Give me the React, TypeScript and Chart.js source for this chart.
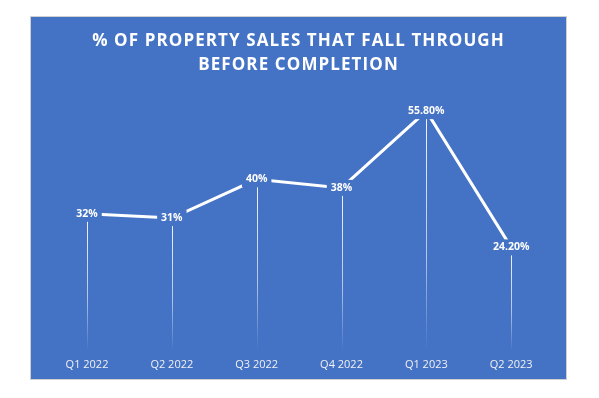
import { useEffect, useRef } from "react";
import { Chart, registerables } from "chart.js";

Chart.register(...registerables);

const categories = ["Q1 2022", "Q2 2022", "Q3 2022", "Q4 2022", "Q1 2023", "Q2 2023"];
const salesFallThrough = [32, 31, 40, 38, 55.8, 24.2];
const valueLabels = ["32%", "31%", "40%", "38%", "55.80%", "24.20%"];
const titleLines = ["% OF PROPERTY SALES THAT FALL THROUGH", "BEFORE COMPLETION"];

const BG = "#4472C4";

const titlePlugin = {
  id: "customTitle",
  afterDraw(chart: any) {
    const ctx = chart.ctx;
    ctx.save();
    ctx.fillStyle = "#FFFFFF";
    ctx.font = "bold 17px 'Open Sans'";
    (ctx as any).letterSpacing = "1.1px";
    ctx.textAlign = "center";
    ctx.textBaseline = "middle";
    const cx = chart.width / 2;
    ctx.fillText(titleLines[0], cx, 24.5);
    ctx.fillText(titleLines[1], cx, 48);
    ctx.restore();
  },
};

const dropLinePlugin = {
  id: "dropLines",
  beforeDatasetsDraw(chart: any) {
    const ctx = chart.ctx;
    const meta = chart.getDatasetMeta(0);
    const bottom = chart.scales.y.getPixelForValue(0);
    ctx.save();
    meta.data.forEach((pt: any) => {
      const x = Math.round(pt.x) + 0.5;
      const g = ctx.createLinearGradient(0, pt.y, 0, bottom);
      g.addColorStop(0, "rgba(255,255,255,0.95)");
      g.addColorStop(0.6, "rgba(255,255,255,0.6)");
      g.addColorStop(1, "rgba(255,255,255,0)");
      ctx.strokeStyle = g;
      ctx.lineWidth = 1;
      ctx.beginPath();
      ctx.moveTo(x, pt.y);
      ctx.lineTo(x, bottom - 3);
      ctx.stroke();
    });
    ctx.restore();
  },
  afterDatasetsDraw(chart: any) {
    const ctx = chart.ctx;
    const meta = chart.getDatasetMeta(0);
    ctx.save();
    ctx.font = "bold 10.5px 'Open Sans'";
    ctx.textAlign = "center";
    ctx.textBaseline = "middle";
    meta.data.forEach((pt: any, i: number) => {
      const txt = valueLabels[i];
      const w = ctx.measureText(txt).width;
      ctx.fillStyle = BG;
      ctx.fillRect(pt.x - w / 2 - 4, pt.y - 8, w + 8, 16);
      ctx.fillStyle = "#FFFFFF";
      ctx.fillText(txt, pt.x, pt.y);
    });
    ctx.restore();
  },
};

export default function App() {
  const ref = useRef<HTMLCanvasElement | null>(null);

  useEffect(() => {
    if (!ref.current) return;
    const chart = new Chart(ref.current, {
      type: "line",
      data: {
        labels: categories,
        datasets: [
          {
            data: salesFallThrough,
            borderColor: "#FFFFFF",
            borderWidth: 3,
            pointRadius: 0,
            tension: 0,
            fill: false,
          },
        ],
      },
      options: {
        responsive: false,
        animation: false,
        layout: { padding: { left: 13.6, right: 12.4, top: 76, bottom: 2 } },
        plugins: {
          legend: { display: false },
          title: { display: false },
          tooltip: { enabled: false },
        },
        scales: {
          x: {
            offset: true,
            grid: { display: false, drawTicks: false },
            border: { display: false },
            ticks: {
              color: "#F2F2F2",
              padding: 6,
              font: { family: "'Open Sans'", size: 11 },
              maxRotation: 0,
            },
          },
          y: {
            display: false,
            min: 0,
            max: 60,
          },
        },
      },
      plugins: [titlePlugin, dropLinePlugin],
    });
    return () => chart.destroy();
  }, []);

  return (
    <div
      style={{
        position: "absolute",
        left: 30,
        top: 16,
        width: 537,
        height: 364,
        boxSizing: "border-box",
        border: "1px solid #D0D0D0",
        background: BG,
      }}
    >
      <canvas ref={ref} width={535} height={362} style={{ display: "block" }} />
    </div>
  );
}
